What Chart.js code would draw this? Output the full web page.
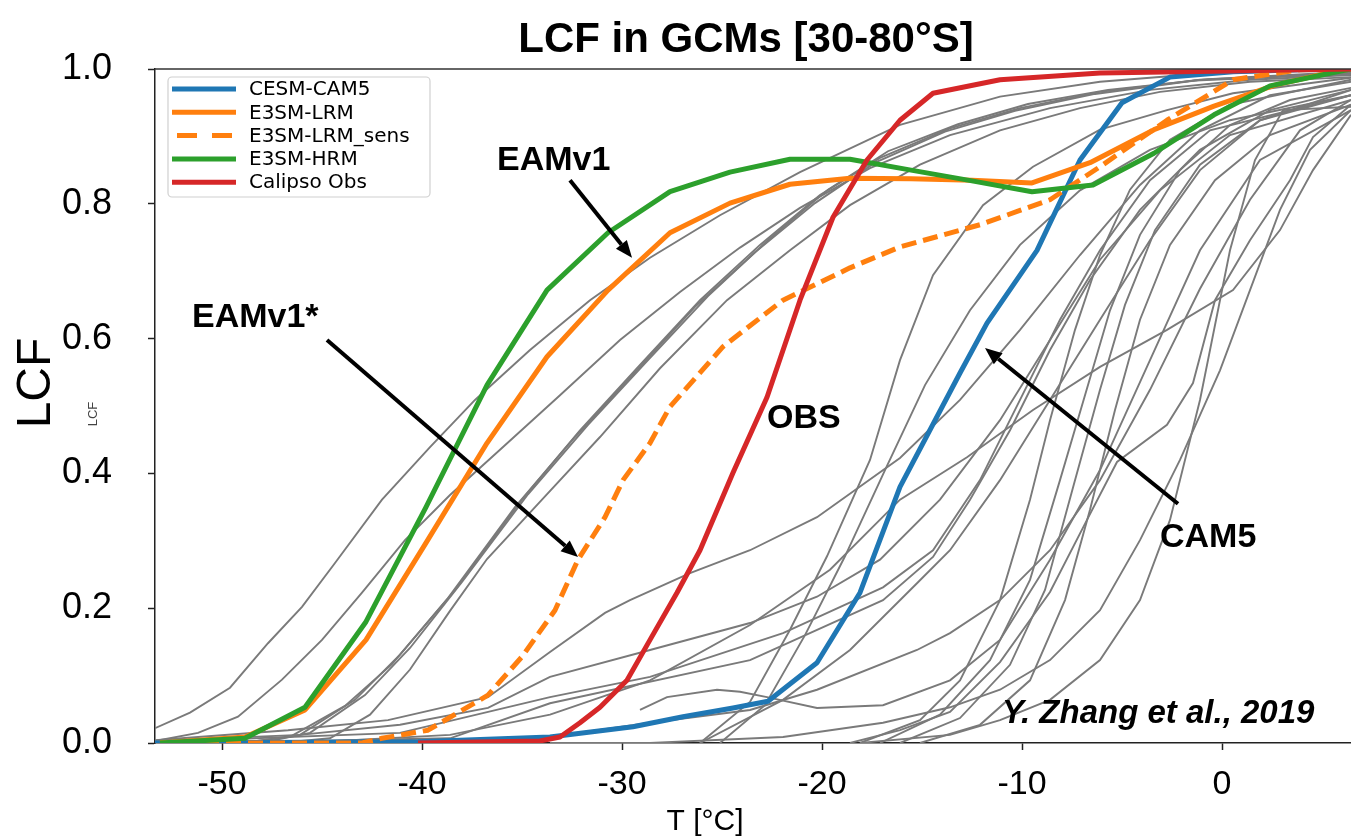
<!DOCTYPE html>
<html>
<head>
<meta charset="utf-8">
<script src="https://cdn.jsdelivr.net/npm/chart.js@4.4.0/dist/chart.umd.min.js"></script>
<style>
  html, body { margin: 0; padding: 0; background: #fff; }
</style>
</head>
<body>
<canvas id="chart" width="1351" height="837"></canvas>
<script>
// axis ticks
const tempTicks = [-50, -40, -30, -20, -10, 0];
const lcfTicks = [0, 0.2, 0.4, 0.6, 0.8, 1.0];

// highlighted models / obs (T in degC, LCF fraction)
const cesmT = [-53.35, -40.2, -33.6, -29.45, -26.95, -24.45, -22.7, -20.25, -18.1, -16.1, -13.1, -11.75, -9.25, -7.1, -5.0, -2.6, 0.55, 3.9, 6.45];
const cesmLCF = [0, 0.002, 0.009, 0.024, 0.039, 0.052, 0.062, 0.119, 0.223, 0.380, 0.549, 0.623, 0.731, 0.865, 0.950, 0.988, 0.996, 0.999, 1.0];

const lrmT = [-53.1, -48.85, -45.85, -42.8, -39.8, -36.75, -33.75, -30.7, -27.6, -24.6, -21.6, -18.6, -15.55, -12.5, -9.5, -6.6, -3.4, -0.4, 2.65, 5.7, 6.45];
const lrmLCF = [0, 0.009, 0.049, 0.153, 0.297, 0.445, 0.573, 0.672, 0.757, 0.801, 0.829, 0.838, 0.837, 0.835, 0.831, 0.861, 0.910, 0.945, 0.976, 0.997, 1.0];

const sensT = [-53.1, -43, -42, -39.7, -36.7, -35, -33.35, -32.2, -30.85, -29.95, -28.6, -27.6, -24.95, -21.95, -18.6, -16.1, -12.1, -8.6, -6.1, -2.75, 0.55, 3.9, 6.45];
const sensLCF = [0, 0, 0.007, 0.019, 0.071, 0.128, 0.197, 0.272, 0.335, 0.39, 0.445, 0.499, 0.588, 0.657, 0.705, 0.736, 0.769, 0.806, 0.855, 0.924, 0.984, 0.999, 1.0];

const hrmT = [-53.1, -48.85, -45.85, -42.8, -39.8, -36.75, -33.75, -30.7, -27.6, -24.6, -21.6, -18.6, -15.55, -12.5, -9.5, -6.45, -3.4, -0.4, 2.4, 5.75, 6.45];
const hrmLCF = [0, 0.007, 0.053, 0.18, 0.35, 0.531, 0.672, 0.757, 0.818, 0.847, 0.866, 0.866, 0.850, 0.834, 0.818, 0.828, 0.875, 0.932, 0.975, 0.996, 1.0];

const calipsoT = [-40.2, -34.1, -33.1, -32.1, -31.1, -29.75, -28.6, -27.25, -26.1, -24.45, -22.75, -21.1, -19.45, -17.75, -16.1, -14.45, -11.1, -6.1, 0.4, 3.9, 6.45];
const calipsoLCF = [0, 0.003, 0.009, 0.030, 0.053, 0.093, 0.153, 0.223, 0.286, 0.401, 0.513, 0.657, 0.780, 0.865, 0.924, 0.964, 0.984, 0.994, 0.997, 0.999, 1.0];

// other GCMs (grey)
const gcmT = [
  [-53.35, -51.6, -49.6, -47.7, -46.0, -44.35, -42.0, -39.6, -37.35, -34.6, -31.6, -28.6, -25.1, -21.1, -16.1, -11.1, -6.1, -1.1, 6.45],
  [-53.35, -51.2, -49.2, -47.0, -45.0, -43.0, -40.85, -38.6, -36.1, -33.1, -30.1, -27.1, -24.1, -21.1, -17.6, -13.6, -8.6, -3.6, 1.4, 6.45],
  [-48.6, -46.1, -43.35, -41.1, -38.35, -35.0, -32.1, -29.1, -26.1, -23.1, -20.1, -17.1, -13.6, -10.1, -6.1, -1.1, 6.45],
  [-49.1, -46.6, -43.85, -41.5, -38.7, -35.35, -32.35, -29.35, -26.35, -23.35, -20.35, -17.35, -13.85, -10.35, -6.35, -1.35, 6.45],
  [-48.1, -45.6, -42.85, -40.6, -38.0, -34.7, -31.7, -28.7, -25.7, -22.7, -19.7, -16.7, -13.2, -9.7, -5.7, -0.7, 6.45],
  [-47.1, -44.6, -42.6, -40.6, -38.6, -36.75, -34.0, -31.1, -28.1, -24.75, -21.6, -18.6, -15.1, -11.1, -7.1, -3.1, 1.4, 6.45],
  [-53.35, -46.7, -41.7, -36.7, -33.6, -30.85, -29.6, -26.6, -23.6, -20.25, -16.1, -13.1, -10.1, -7.1, -4.1, -1.1, 2.4, 6.45],
  [-53.35, -46.1, -41.1, -36.7, -33.6, -28.6, -23.6, -20.25, -17.1, -14.1, -11.1, -8.6, -6.1, -3.1, 0.4, 6.45],
  [-53.35, -41.1, -33.6, -28.6, -21.95, -16.95, -14.45, -12.1, -10.1, -8.1, -6.1, -3.6, -0.6, 6.45],
  [-51.1, -38.6, -33.6, -23.6, -16.95, -14.45, -12.6, -10.6, -8.6, -6.6, -4.1, -1.1, 2.4, 6.45],
  [-29.1, -27.75, -25.25, -24.1, -22.75, -20.25, -16.95, -13.6, -11.1, -8.6, -6.1, -3.6, -1.1, 1.9, 6.45],
  [-41.1, -33.6, -28.6, -23.6, -20.25, -15.25, -13.6, -11.1, -8.6, -6.1, -3.6, -1.1, 1.4, 3.9, 6.45],
  [-33.6, -28.6, -21.95, -16.95, -13.6, -11.1, -8.6, -6.1, -4.1, -2.1, -0.1, 1.4, 2.9, 4.4, 6.45],
  [-18.6, -16.1, -13.6, -11.1, -8.6, -6.75, -5.25, -2.75, -1.45, -0.35, 1.4, 3.4, 4.55, 6.45],
  [-18.1, -13.6, -11.1, -8.6, -6.1, -4.1, -2.6, -1.1, 0.4, 1.65, 3.05, 6.45],
  [-26.1, -21.95, -18.6, -15.25, -13.6, -11.1, -8.6, -6.1, -3.6, -1.1, 1.9, 6.45],
  [-26.1, -23.6, -21.6, -19.75, -17.6, -16.1, -14.45, -11.95, -9.45, -6.1, -2.75, 0.55, 6.45],
  [-25.1, -22.85, -20.85, -18.85, -16.85, -14.85, -12.6, -10.1, -7.1, -3.6, 0.4, 6.45],
  [-18.1, -15.1, -13.1, -11.1, -9.6, -8.6, -7.35, -6.1, -4.6, -2.6, 0.4, 6.45],
  [-17.1, -14.1, -11.6, -9.6, -8.1, -6.85, -5.6, -4.1, -2.1, 0.4, 3.4, 6.45],
  [-16.1, -13.1, -10.6, -8.85, -7.35, -6.1, -4.85, -3.35, -1.1, 1.9, 6.45],
  [-15.1, -12.1, -9.6, -7.85, -6.6, -5.35, -4.1, -2.6, -0.35, 2.4, 6.45],
  [-46.1, -38.6, -33.6, -28.6, -23.6, -19.6, -16.1, -12.75, -9.45, -6.1, -2.75, 0.55, 2.9, 4.55, 6.45]
];
const gcmLCF = [
  [0.022, 0.045, 0.082, 0.148, 0.202, 0.267, 0.361, 0.439, 0.509, 0.583, 0.657, 0.720, 0.783, 0.847, 0.917, 0.959, 0.981, 0.993, 0.999],
  [0.003, 0.015, 0.039, 0.094, 0.153, 0.223, 0.301, 0.368, 0.435, 0.516, 0.598, 0.669, 0.735, 0.794, 0.853, 0.902, 0.942, 0.969, 0.984, 0.991],
  [0.0015, 0.012, 0.064, 0.131, 0.227, 0.361, 0.464, 0.561, 0.657, 0.739, 0.813, 0.868, 0.912, 0.942, 0.966, 0.984, 0.994],
  [0, 0.009, 0.055, 0.117, 0.215, 0.350, 0.454, 0.550, 0.647, 0.728, 0.801, 0.861, 0.907, 0.938, 0.963, 0.983, 0.993],
  [0, 0.015, 0.071, 0.141, 0.239, 0.369, 0.472, 0.568, 0.663, 0.746, 0.821, 0.878, 0.918, 0.948, 0.969, 0.985, 0.996],
  [0, 0.007, 0.042, 0.109, 0.196, 0.273, 0.361, 0.454, 0.556, 0.657, 0.731, 0.798, 0.858, 0.909, 0.942, 0.966, 0.981, 0.988],
  [0.004, 0.019, 0.034, 0.068, 0.135, 0.193, 0.212, 0.252, 0.286, 0.335, 0.423, 0.509, 0.613, 0.724, 0.828, 0.909, 0.961, 0.981],
  [0.003, 0.012, 0.027, 0.052, 0.098, 0.138, 0.178, 0.217, 0.272, 0.361, 0.479, 0.598, 0.717, 0.820, 0.902, 0.954],
  [0.0015, 0.015, 0.068, 0.098, 0.163, 0.231, 0.286, 0.390, 0.509, 0.628, 0.731, 0.835, 0.909, 0.961],
  [0, 0.007, 0.059, 0.123, 0.212, 0.276, 0.361, 0.464, 0.583, 0.687, 0.791, 0.880, 0.939, 0.969],
  [0.049, 0.068, 0.079, 0.076, 0.068, 0.052, 0.056, 0.093, 0.153, 0.272, 0.405, 0.568, 0.731, 0.865, 0.939],
  [0, 0.009, 0.030, 0.049, 0.079, 0.138, 0.163, 0.212, 0.286, 0.390, 0.524, 0.674, 0.806, 0.909, 0.954],
  [0, 0, 0.009, 0.030, 0.053, 0.079, 0.123, 0.197, 0.301, 0.420, 0.553, 0.672, 0.791, 0.880, 0.939],
  [0, 0.019, 0.046, 0.120, 0.224, 0.331, 0.417, 0.472, 0.534, 0.657, 0.746, 0.835, 0.899, 0.947],
  [0, 0.012, 0.034, 0.064, 0.123, 0.212, 0.331, 0.509, 0.731, 0.865, 0.939, 0.944],
  [0, 0.064, 0.138, 0.237, 0.286, 0.390, 0.509, 0.628, 0.746, 0.850, 0.924, 0.969],
  [0, 0.061, 0.168, 0.277, 0.420, 0.568, 0.694, 0.798, 0.855, 0.910, 0.939, 0.964, 0.987],
  [0, 0.056, 0.160, 0.277, 0.405, 0.531, 0.642, 0.739, 0.820, 0.880, 0.924, 0.961],
  [0, 0.034, 0.093, 0.212, 0.361, 0.479, 0.613, 0.724, 0.821, 0.895, 0.947, 0.984],
  [0, 0.042, 0.123, 0.242, 0.390, 0.516, 0.642, 0.754, 0.850, 0.917, 0.954, 0.972],
  [0, 0.037, 0.116, 0.227, 0.390, 0.524, 0.650, 0.761, 0.858, 0.924, 0.961],
  [0, 0.027, 0.093, 0.212, 0.346, 0.494, 0.628, 0.739, 0.835, 0.902, 0.947],
  [0, 0.012, 0.042, 0.093, 0.175, 0.257, 0.361, 0.424, 0.494, 0.558, 0.613, 0.672, 0.761, 0.850, 0.932]
];

const FONT = "'Liberation Sans', Arial, sans-serif";

function pts(xs, ys) {
  return xs.map((v, i) => ({ x: v, y: ys[i] }));
}

// legend order as in the figure, draw order via "order" (lower = on top)
const datasets = [
  { label: 'CESM-CAM5', data: pts(cesmT, cesmLCF), borderColor: '#1f77b4', order: 4, inLegend: true },
  { label: 'E3SM-LRM', data: pts(lrmT, lrmLCF), borderColor: '#ff7f0e', order: 3, inLegend: true },
  { label: 'E3SM-LRM_sens', data: pts(sensT, sensLCF), borderColor: '#ff7f0e', borderDash: [15, 7], order: 2, inLegend: true },
  { label: 'E3SM-HRM', data: pts(hrmT, hrmLCF), borderColor: '#2ca02c', order: 1, inLegend: true },
  { label: 'Calipso Obs', data: pts(calipsoT, calipsoLCF), borderColor: '#d62728', order: 0, inLegend: true }
].map(d => Object.assign({ borderWidth: 5, borderCapStyle: 'butt', borderJoinStyle: 'round' }, d));

gcmT.forEach((xs, i) => {
  datasets.push({
    label: 'gcm' + (i + 1),
    data: pts(xs, gcmLCF[i]),
    borderColor: '#7a7a7a',
    borderWidth: 1.9,
    order: 10
  });
});

// text labels and arrows, positioned in data units
const notes = [
  { text: 'EAMv1', x: -36.25, y: 0.850 },
  { text: 'EAMv1*', x: -51.5, y: 0.617 },
  { text: 'OBS', x: -22.75, y: 0.467 },
  { text: 'CAM5', x: -3.1, y: 0.291 }
];
const arrows = [
  { from: [-32.6, 0.835], to: [-29.5, 0.720] },
  { from: [-44.75, 0.598], to: [-32.2, 0.276] },
  { from: [-2.2, 0.355], to: [-11.85, 0.586] }
];

function arrow(ctx, x1, y1, x2, y2) {
  const ang = Math.atan2(y2 - y1, x2 - x1);
  const hl = 17, hw = 7;
  const bx = x2 - hl * Math.cos(ang), by = y2 - hl * Math.sin(ang);
  ctx.beginPath();
  ctx.moveTo(x1, y1);
  ctx.lineTo(bx, by);
  ctx.lineWidth = 4;
  ctx.strokeStyle = '#000';
  ctx.stroke();
  ctx.beginPath();
  ctx.moveTo(x2, y2);
  ctx.lineTo(bx + hw * Math.sin(ang), by - hw * Math.cos(ang));
  ctx.lineTo(bx - hw * Math.sin(ang), by + hw * Math.cos(ang));
  ctx.closePath();
  ctx.fillStyle = '#000';
  ctx.fill();
}

const decor = {
  id: 'decor',
  afterDraw(chart) {
    const { ctx, chartArea: a, scales } = chart;
    const sx = scales.x, sy = scales.y;
    ctx.save();

    // top frame
    ctx.strokeStyle = '#333';
    ctx.lineWidth = 1.5;
    ctx.beginPath();
    ctx.moveTo(a.left, a.top);
    ctx.lineTo(a.right, a.top);
    ctx.stroke();

    // title
    ctx.fillStyle = '#000';
    ctx.textAlign = 'center';
    ctx.textBaseline = 'alphabetic';
    ctx.font = 'bold 42px ' + FONT;
    ctx.fillText('LCF in GCMs [30-80°S]', 746, 52);

    // x title
    ctx.font = '30px ' + FONT;
    ctx.fillText('T [°C]', 705, 830);

    // y title + faint duplicate
    ctx.save();
    ctx.translate(50, 383);
    ctx.rotate(-Math.PI / 2);
    ctx.font = '48px ' + FONT;
    ctx.fillText('LCF', 0, 0);
    ctx.restore();
    ctx.save();
    ctx.translate(97, 414);
    ctx.rotate(-Math.PI / 2);
    ctx.font = '13px ' + FONT;
    ctx.fillStyle = '#444';
    ctx.fillText('LCF', 0, 0);
    ctx.restore();

    // annotations
    ctx.textAlign = 'left';
    ctx.font = 'bold 34px ' + FONT;
    notes.forEach(n => {
      ctx.fillText(n.text, sx.getPixelForValue(n.x), sy.getPixelForValue(n.y));
    });
    arrows.forEach(r => {
      arrow(ctx, sx.getPixelForValue(r.from[0]), sy.getPixelForValue(r.from[1]),
        sx.getPixelForValue(r.to[0]), sy.getPixelForValue(r.to[1]));
    });
    ctx.font = 'italic bold 33px ' + FONT;
    ctx.fillText('Y. Zhang et al., 2019', sx.getPixelForValue(-11.0), sy.getPixelForValue(0.030));

    // legend box
    const lx = a.left + 13, ly = a.top + 8, lw = 262, lh = 120;
    ctx.beginPath();
    ctx.roundRect(lx, ly, lw, lh, 4);
    ctx.fillStyle = 'rgba(255,255,255,0.85)';
    ctx.fill();
    ctx.strokeStyle = '#d0d0d0';
    ctx.lineWidth = 1.2;
    ctx.stroke();

    ctx.font = "20px 'DejaVu Sans', sans-serif";
    ctx.textBaseline = 'middle';
    chart.data.datasets.filter(d => d.inLegend).forEach((d, i) => {
      const yy = ly + 12 + i * 23.3;
      ctx.beginPath();
      ctx.strokeStyle = d.borderColor;
      ctx.lineWidth = 5;
      if (d.borderDash) {
        ctx.setLineDash([20, 15]);
        ctx.moveTo(lx + 9, yy);
        ctx.lineTo(lx + 64, yy);
      } else {
        ctx.setLineDash([]);
        ctx.moveTo(lx + 4, yy);
        ctx.lineTo(lx + 68, yy);
      }
      ctx.stroke();
      ctx.setLineDash([]);
      ctx.fillStyle = '#000';
      ctx.fillText(d.label, lx + 81, yy + 1);
    });

    ctx.restore();
  }
};

const ctx = document.getElementById('chart').getContext('2d');
const chart = new Chart(ctx, {
  type: 'line',
  data: { datasets: datasets },
  options: {
    responsive: false,
    animation: false,
    layout: { padding: { top: 69, left: 0, right: 0, bottom: 0 } },
    elements: { point: { radius: 0, hoverRadius: 0 }, line: { tension: 0 } },
    plugins: {
      legend: { display: false },
      tooltip: { enabled: false },
      title: { display: false }
    },
    scales: {
      x: {
        type: 'linear',
        min: -53.35,
        max: 6.45,
        afterBuildTicks: s => { s.ticks = tempTicks.map(v => ({ value: v })); },
        afterFit: s => { s.height = 94; },
        ticks: {
          color: '#000',
          font: { family: FONT, size: 34 },
          padding: 14,
          maxRotation: 0,
          callback: v => String(v)
        },
        grid: { display: true, drawOnChartArea: false, drawTicks: true, tickLength: 7, tickColor: '#222', tickWidth: 1.5 },
        border: { display: true, color: '#222', width: 1.5 }
      },
      y: {
        type: 'linear',
        min: 0,
        max: 1,
        afterBuildTicks: s => { s.ticks = lcfTicks.map(v => ({ value: v })); },
        afterFit: s => { s.width = 155; },
        ticks: {
          color: '#000',
          font: { family: FONT, size: 36 },
          padding: 36,
          callback: v => Number(v).toFixed(1)
        },
        grid: { display: true, drawOnChartArea: false, drawTicks: true, tickLength: 7, tickColor: '#222', tickWidth: 1.5 },
        border: { display: true, color: '#222', width: 1.5 }
      }
    }
  },
  plugins: [decor]
});
</script>
</body>
</html>
